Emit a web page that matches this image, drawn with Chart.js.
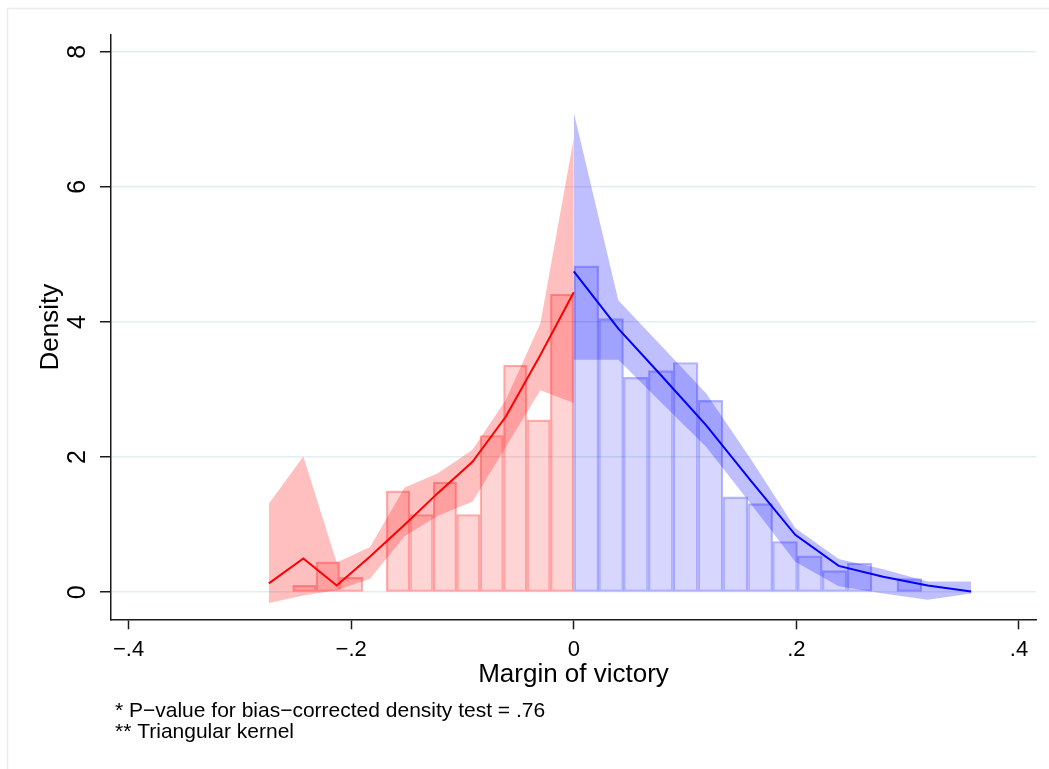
<!DOCTYPE html>
<html>
<head>
<meta charset="utf-8">
<script src="https://cdn.jsdelivr.net/npm/chart.js@4/dist/chart.umd.min.js"></script>
<style>
  html, body { margin: 0; padding: 0; background: #ffffff; }
  canvas { display: block; }
</style>
</head>
<body>
<canvas id="c" width="1049" height="769"></canvas>
<script>
// Histogram of the running variable, bins left of the cutoff (centres, heights)
const leftBinMid    = [-0.2421, -0.2210, -0.2000, -0.1789, -0.1579, -0.1368, -0.1158, -0.0947, -0.0737, -0.0526, -0.0316, -0.0105];
const leftBinHeight = [0.10, 0.45, 0.22, 0, 1.50, 1.15, 1.63, 1.15, 2.32, 3.36, 2.55, 4.41];

// Histogram bins right of the cutoff
const rightBinMid    = [0.0112, 0.0335, 0.0558, 0.0782, 0.1005, 0.1228, 0.1451, 0.1675, 0.1898, 0.2121, 0.2345, 0.2568, 0.2791, 0.3015];
const rightBinHeight = [4.83, 4.05, 3.18, 3.28, 3.40, 2.84, 1.41, 1.31, 0.75, 0.54, 0.32, 0.43, 0, 0.20];

// Local-polynomial density estimate with confidence band, left side
const leftGrid  = [-0.274, -0.243, -0.213, -0.183, -0.152, -0.122, -0.091, -0.061, -0.030, 0.000];
const leftDens  = [0.13, 0.50, 0.10, 0.53, 1.00, 1.47, 1.93, 2.60, 3.51, 4.44];
const leftUpper = [1.31, 2.01, 0.44, 0.67, 1.55, 1.76, 2.11, 2.85, 3.98, 6.72];
const leftLower = [-0.16, -0.05, 0.03, 0.20, 0.83, 1.13, 1.34, 2.15, 2.99, 2.80];

// Same for the right side
const rightGrid  = [0.000, 0.040, 0.079, 0.119, 0.159, 0.199, 0.238, 0.278, 0.318, 0.357];
const rightDens  = [4.75, 3.90, 3.20, 2.47, 1.65, 0.85, 0.39, 0.23, 0.10, 0.01];
const rightUpper = [7.10, 4.32, 3.64, 2.94, 1.97, 0.95, 0.49, 0.34, 0.16, 0.16];
const rightLower = [3.44, 3.44, 2.80, 2.15, 1.31, 0.45, 0.09, -0.02, -0.11, -0.02];

// Axis ticks and texts
const xTickValues = [-0.4, -0.2, 0, 0.2, 0.4];
const xTickText   = ['\u2212.4', '\u2212.2', '0', '.2', '.4'];
const yTickValues = [0, 2, 4, 6, 8];
const xTitle = 'Margin of victory';
const yTitle = 'Density';
const noteLines = [
  '* P\u2212value for bias\u2212corrected density test = .76',
  '** Triangular kernel'
];

const FONT = '"Liberation Sans", Arial, Helvetica, sans-serif';
Chart.defaults.font.family = FONT;
Chart.defaults.color = '#000000';

const pts = (xs, ys) => xs.map((x, i) => ({ x: x, y: ys[i] }));

const X_MIN = -0.4158, X_MAX = 0.4153;
const Y_MIN = -0.401,  Y_MAX = 8.247;

const GRID = 'rgb(228,237,239)';
const AXIS = '#1a1a1a';

// light outer frame of the graph region
const framePlugin = {
  id: 'frame',
  beforeDraw(chart) {
    const ctx = chart.ctx;
    ctx.save();
    ctx.strokeStyle = 'rgb(230,238,240)';
    ctx.lineWidth = 1.5;
    ctx.beginPath();
    ctx.moveTo(7.5, chart.height);
    ctx.lineTo(7.5, 8.5);
    ctx.lineTo(chart.width, 8.5);
    ctx.stroke();
    ctx.restore();
  }
};

// footnotes under the x-axis title
const notesPlugin = {
  id: 'notes',
  afterDraw(chart) {
    const ctx = chart.ctx;
    ctx.save();
    ctx.fillStyle = '#000000';
    ctx.font = '21px ' + FONT;
    ctx.textAlign = 'left';
    ctx.textBaseline = 'alphabetic';
    noteLines.forEach((t, i) => ctx.fillText(t, 115, 717 + i * 20.7));
    ctx.restore();
  }
};

const barCommon = {
  type: 'bar',
  yAxisID: 'y',
  grouped: false,
  barPercentage: 1,
  categoryPercentage: 1,
  borderWidth: 1.5,
  borderSkipped: false,
  order: 3
};
const bandCommon = {
  type: 'line',
  xAxisID: 'x',
  yAxisID: 'y',
  borderWidth: 0,
  pointRadius: 0,
  tension: 0,
  order: 2
};
const lineCommon = {
  type: 'line',
  xAxisID: 'x',
  yAxisID: 'y',
  borderWidth: 2,
  pointRadius: 0,
  tension: 0,
  fill: false,
  order: 1
};

new Chart(document.getElementById('c'), {
  type: 'bar',
  data: {
    datasets: [
      Object.assign({}, barCommon, {
        label: 'hist left', xAxisID: 'x',
        data: pts(leftBinMid, leftBinHeight),
        backgroundColor: 'rgba(255,0,0,0.17)',
        borderColor: 'rgba(255,0,0,0.32)'
      }),
      Object.assign({}, barCommon, {
        label: 'hist right', xAxisID: 'x2',
        data: pts(rightBinMid, rightBinHeight),
        backgroundColor: 'rgba(0,0,255,0.16)',
        borderColor: 'rgba(0,0,255,0.28)'
      }),
      Object.assign({}, bandCommon, {
        label: 'ci left upper', data: pts(leftGrid, leftUpper),
        fill: '+1', backgroundColor: 'rgba(255,0,0,0.25)', borderColor: 'rgba(0,0,0,0)'
      }),
      Object.assign({}, bandCommon, {
        label: 'ci left lower', data: pts(leftGrid, leftLower),
        fill: false, borderColor: 'rgba(0,0,0,0)'
      }),
      Object.assign({}, bandCommon, {
        label: 'ci right upper', data: pts(rightGrid, rightUpper),
        fill: '+1', backgroundColor: 'rgba(0,0,255,0.25)', borderColor: 'rgba(0,0,0,0)'
      }),
      Object.assign({}, bandCommon, {
        label: 'ci right lower', data: pts(rightGrid, rightLower),
        fill: false, borderColor: 'rgba(0,0,0,0)'
      }),
      Object.assign({}, lineCommon, {
        label: 'density left', data: pts(leftGrid, leftDens), borderColor: '#ff0000'
      }),
      Object.assign({}, lineCommon, {
        label: 'density right', data: pts(rightGrid, rightDens), borderColor: '#0000ff'
      })
    ]
  },
  options: {
    responsive: false,
    devicePixelRatio: 1,
    animation: false,
    layout: { padding: { top: 35, right: 13, bottom: 80, left: 0 } },
    plugins: {
      legend: { display: false },
      tooltip: { enabled: false },
      title: { display: false }
    },
    scales: {
      x: {
        type: 'linear',
        position: 'bottom',
        min: X_MIN, max: X_MAX,
        offset: false,
        afterBuildTicks: s => { s.ticks = xTickValues.map(v => ({ value: v })); },
        afterFit: s => { s.height = 69.7; },
        grid: {
          offset: false,
          drawOnChartArea: false,
          drawTicks: true,
          tickLength: 10,
          tickWidth: 1.5,
          tickColor: AXIS
        },
        border: { display: true, color: AXIS, width: 1.5 },
        ticks: {
          autoSkip: false,
          maxRotation: 0,
          minRotation: 0,
          padding: 7,
          font: { size: 22 },
          color: '#000000',
          callback: (v, i) => xTickText[i]
        },
        title: {
          display: true,
          text: xTitle,
          font: { size: 26 },
          color: '#000000',
          padding: { top: 0, bottom: -1 }
        }
      },
      x2: {
        type: 'linear',
        display: false,
        min: X_MIN, max: X_MAX,
        offset: false,
        afterBuildTicks: s => { s.ticks = xTickValues.map(v => ({ value: v })); },
        grid: { offset: false }
      },
      y: {
        type: 'linear',
        position: 'left',
        min: Y_MIN, max: Y_MAX,
        afterBuildTicks: s => { s.ticks = yTickValues.map(v => ({ value: v })); },
        afterFit: s => { s.width = 111; },
        grid: {
          color: GRID,
          lineWidth: 1.5,
          drawTicks: true,
          tickLength: 11,
          tickWidth: 1.5,
          tickColor: AXIS
        },
        border: { display: true, color: AXIS, width: 1.5 },
        ticks: {
          autoSkip: false,
          minRotation: 90,
          maxRotation: 90,
          crossAlign: 'center',
          padding: 15,
          font: { size: 25 },
          color: '#000000',
          callback: v => String(v)
        },
        title: {
          display: true,
          text: yTitle,
          font: { size: 26 },
          color: '#000000',
          padding: { top: 35, bottom: 0 }
        }
      }
    }
  },
  plugins: [framePlugin, notesPlugin]
});
</script>
</body>
</html>
